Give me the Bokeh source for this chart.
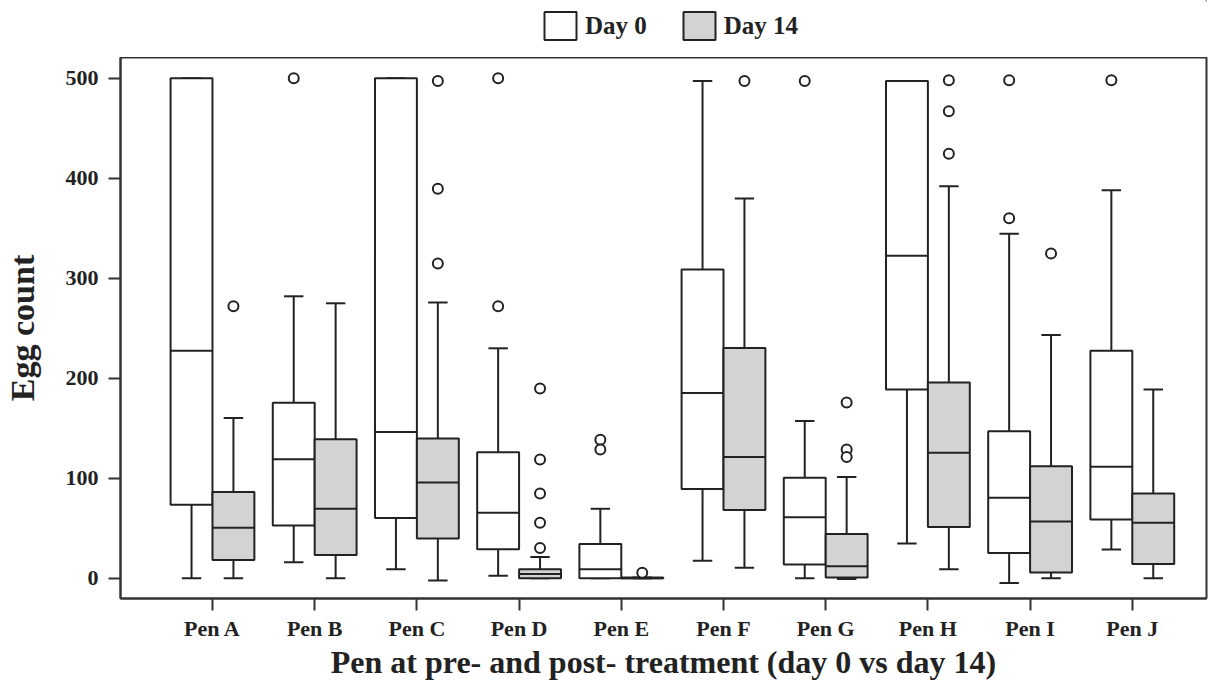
from bokeh.plotting import figure
from bokeh.layouts import column
from bokeh.models import Range1d, FixedTicker, Legend, LegendItem, ColumnDataSource
from bokeh.embed import file_html
from bokeh.resources import INLINE

pens = ["Pen A", "Pen B", "Pen C", "Pen D", "Pen E", "Pen F", "Pen G", "Pen H", "Pen I", "Pen J"]

# Day 0 box statistics
d0_lo  = [0, 16, 9, 2.6, 0, 17.6, 0, 34.7, -4.8, 28.9]
d0_q1  = [73.5, 52.7, 60.4, 29, 0, 89.2, 13.9, 188.7, 25.2, 58.9]
d0_med = [227.5, 119, 146.3, 65.5, 9, 185.4, 61, 322.6, 80.5, 111.6]
d0_q3  = [500, 175.6, 500, 126, 34.4, 308.7, 100.6, 497.4, 147, 227.5]
d0_hi  = [500, 282, 500, 230, 69.5, 497.4, 157.3, 497.4, 344.5, 388]
d0_out = [[], [500], [], [500, 272], [138.6, 128.7], [], [497.4], [], [498, 360], [498]]

# Day 14 box statistics
d14_lo  = [0, 0, -2.2, 0, 0, 10.6, -0.7, 9.1, 0, 0]
d14_q1  = [18.3, 23.4, 39.9, 0, 0, 68.4, 0.7, 51.2, 5.9, 14.3]
d14_med = [50.5, 69.5, 95.8, 4.4, 0, 121.4, 12.1, 125.5, 56.7, 55.6]
d14_q3  = [86.3, 139, 139.7, 9.1, 0.8, 230.4, 44.3, 195.7, 112, 84.9]
d14_hi  = [160.2, 275, 275.8, 21.2, 0.8, 379.7, 101.3, 392, 243.2, 188.7]
d14_out = [[272], [], [497.4, 389.5, 314.9], [189.8, 118.9, 84.9, 55.6, 30.4], [5.5],
           [497.4], [175.9, 128.7, 121.4], [498, 467, 424.6], [324.8], []]

groups = ["Day 0", "Day 14"]
fills = ["white", "#d3d3d3"]

SERIF = "Liberation Serif"
INK = "#222222"
BOX_W = 0.41
CAP_W = 0.19

p = figure(width=1209, height=625, output_backend="svg", toolbar_location=None,
           x_range=Range1d(-0.9, 9.726), y_range=Range1d(-20.2, 520.8),
           min_border_left=120, min_border_right=3, min_border_top=0, min_border_bottom=78)
p.grid.visible = False
p.outline_line_color = "#333333"
p.outline_line_width = 2
p.background_fill_color = "white"
p.border_fill_color = "white"


def draw_group(offset, lo, q1, med, q3, hi, out, fill):
    xs = [i + offset for i in range(len(pens))]
    src = ColumnDataSource(dict(x=xs, lo=lo, q1=q1, med=med, q3=q3, hi=hi,
                                xl=[x - BOX_W / 2 for x in xs], xr=[x + BOX_W / 2 for x in xs],
                                cl=[x - CAP_W / 2 for x in xs], cr=[x + CAP_W / 2 for x in xs]))
    p.segment(x0="x", y0="q3", x1="x", y1="hi", source=src, line_color=INK, line_width=2)
    p.segment(x0="x", y0="q1", x1="x", y1="lo", source=src, line_color=INK, line_width=2)
    p.segment(x0="cl", y0="hi", x1="cr", y1="hi", source=src, line_color=INK, line_width=2)
    p.segment(x0="cl", y0="lo", x1="cr", y1="lo", source=src, line_color=INK, line_width=2)
    p.vbar(x="x", width=BOX_W, bottom="q1", top="q3", source=src,
           fill_color=fill, line_color=INK, line_width=2)
    p.segment(x0="xl", y0="med", x1="xr", y1="med", source=src, line_color=INK, line_width=2)
    ox, oy = [], []
    for i, vals in enumerate(out):
        for v in vals:
            ox.append(i + offset)
            oy.append(v)
    p.scatter(ox, oy, marker="circle", size=10, fill_color="white", line_color=INK, line_width=2)


draw_group(-BOX_W / 2, d0_lo, d0_q1, d0_med, d0_q3, d0_hi, d0_out, fills[0])
draw_group(BOX_W / 2, d14_lo, d14_q1, d14_med, d14_q3, d14_hi, d14_out, fills[1])

# axes
p.xaxis.ticker = FixedTicker(ticks=list(range(len(pens))))
p.xaxis.major_label_overrides = {i: name for i, name in enumerate(pens)}
p.yaxis.ticker = FixedTicker(ticks=[0, 100, 200, 300, 400, 500])
for ax in (p.xaxis, p.yaxis):
    ax.minor_tick_line_color = None
    ax.major_tick_out = 12
    ax.major_tick_in = 0
    ax.major_tick_line_color = "#333333"
    ax.major_tick_line_width = 2
    ax.axis_line_color = "#333333"
    ax.axis_line_width = 2
    ax.major_label_text_font = SERIF
    ax.major_label_text_font_style = "bold"
    ax.major_label_text_font_size = "22px"
    ax.major_label_text_color = INK
    ax.axis_label_text_font = SERIF
    ax.axis_label_text_font_style = "bold"
    ax.axis_label_text_color = INK

p.xaxis.major_label_standoff = 5
p.yaxis.major_label_standoff = 10
p.xaxis.axis_label = "Pen at pre- and post- treatment (day 0 vs day 14)"
p.xaxis.axis_label_text_font_size = "32px"
p.xaxis.axis_label_standoff = 0
p.yaxis.axis_label = "Egg count"
p.yaxis.axis_label_text_font_size = "34px"
p.yaxis.axis_label_standoff = 22

# legend strip above the plot
lg = figure(width=1209, height=57, output_backend="svg", toolbar_location=None,
            x_range=Range1d(0, 1), y_range=Range1d(0, 1),
            min_border_left=0, min_border_right=0, min_border_top=0, min_border_bottom=0)
lg.axis.visible = False
lg.grid.visible = False
lg.outline_line_color = None
lg.border_fill_color = "white"
lg.background_fill_color = "white"
items = []
for name, fill in zip(groups, fills):
    # one off-screen bar per group so the legend can draw its swatch
    r = lg.vbar(x=[5], top=[5], bottom=[4], width=0.1, fill_color=fill, line_color=INK, line_width=2)
    items.append(LegendItem(label=name, renderers=[r]))
legend = Legend(items=items, orientation="horizontal", location=(420, 14),
                glyph_width=40, glyph_height=35, label_standoff=5, spacing=32,
                padding=0, margin=0, border_line_alpha=0, background_fill_alpha=0,
                label_text_font=SERIF, label_text_font_style="bold",
                label_text_font_size="25px", label_text_color=INK)
lg.add_layout(legend, "center")

layout = column(lg, p, spacing=0)
open("out.html", "w").write(file_html(layout, INLINE))
